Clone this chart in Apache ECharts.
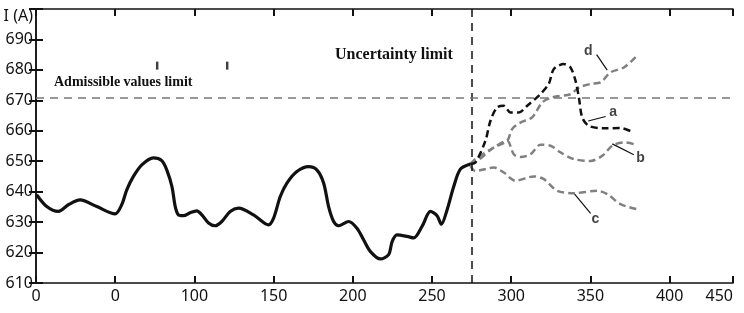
<!DOCTYPE html>
<html><head><meta charset="utf-8">
<script src="https://cdn.jsdelivr.net/npm/echarts@6/dist/echarts.min.js"></script>
<style>html,body{margin:0;padding:0;background:#fff}#c{width:744px;height:313px}</style>
</head><body><div id="c"></div>
<script>
// ---- data ----
const xTickValues = [0, 50, 100, 150, 200, 250, 300, 350, 400, 440];
const xTickLabels = ['0', '0', '100', '150', '200', '250', '300', '350', '400', '450'];
const yTickValues = [610, 620, 630, 640, 650, 660, 670, 680, 690, 700];
const yTickLabels = ['610', '620', '630', '640', '650', '660', '670', '680', '690', 'I (A)'];

const measured = [[0.4,639.0],[6.8,635.1],[14.1,633.5],[20.4,635.7],[27.8,637.3],[38.4,635.1],[49.9,632.7],[54.1,635.7],[57.3,640.6],[61.5,645],[66.8,648.8],[74.1,651.1],[79.4,650.2],[82.6,647.1],[85.8,641.7],[87.9,635.1],[89.9,632.4],[93.1,632.1],[97.3,633.1],[101.5,633.7],[104.7,632.4],[108.9,629.7],[113.1,628.8],[117.3,630.2],[122.6,633.5],[127.8,634.6],[137.3,632.4],[146.8,629.1],[150,631.3],[154.2,638.4],[158.4,642.8],[164.7,646.6],[172.1,648.2],[177.4,647.1],[181.6,642.8],[184.7,635.1],[187.9,630.2],[191,628.8],[197.4,630.2],[202.6,628],[206.8,624.2],[211,620.4],[217.4,617.9],[222.6,619.3],[224.8,623.6],[227.9,625.8],[234.3,625.3],[238.4,624.8],[243.7,628.6],[249,633.5],[253.2,632.1],[255.9,629.3],[259.5,634],[263.7,641.7],[267.9,647.4],[274.2,649.1]];

const forecastA = [[274.2,649.1],[277.4,649.6],[283.7,656.7],[286.9,663.3],[291.1,667.7],[295.3,668.2],[299.5,666],[304.8,666],[310.1,668.2],[318.5,672.1],[323.7,675.4],[326.9,680.3],[333.2,681.9],[337.4,680.8],[340.6,676.4],[342.7,671],[344.8,664.4],[349,661.6],[358.5,660.8],[369,660.9],[377.4,659.4]];
const forecastB = [[274.2,649.1],[277.4,649.6],[289,654.5],[297.4,656.7],[301.6,652.3],[305.8,651.4],[312.2,652.3],[318.5,655.4],[324.8,655.1],[331.1,652.9],[339.5,650.7],[350.1,650.1],[357.5,651.8],[363.8,655.1],[371.1,656.2],[377.4,655.6]];
const forecastC = [[274.2,648.5],[277.4,646.8],[289,647.9],[295.3,646.3],[302.7,643.6],[314.3,645],[320.6,644.1],[329,640.3],[339.5,639.5],[354.3,640.3],[360.6,639.2],[369,635.9],[379.6,634.2]];
const forecastD = [[274.2,649.1],[277.4,650.7],[289,654.5],[297.4,656.7],[300.6,660.6],[305.8,662.7],[313.2,664.4],[319.6,669.3],[325.9,671],[337.4,672],[342.7,674.2],[350.1,675.4],[356.4,675.9],[362.7,679.2],[371.1,680.8],[379.6,684.7]];

const uncertaintyLimitX = 275;
const admissibleLimitI = 671;

const curveNames = ['a', 'b', 'c', 'd'];
const curveLabelPos = [[364.4,666.0],[381.7,650.9],[353.2,631.0],[348.6,686.3]];
const curveLeaders = [
  [[359.6,664.7],[348.6,663.2]],
  [[377.4,652.1],[363.8,655.7]],
  [[350.1,632.9],[339.5,639.5]],
  [[353.9,685.0],[360.6,679.9]]
];
const strayMarks = [[76.5,681.4],[120.7,681.4]];

// ---- chart ----
const chart = echarts.init(document.getElementById('c'), null, {renderer: 'canvas'});
const font = '"Noto Sans", sans-serif';
const xLab = v => { const i = xTickValues.indexOf(v); return i >= 0 ? xTickLabels[i] : ''; };
const yLab = v => { const i = yTickValues.indexOf(v); return i >= 0 ? (v === 700 ? '{t|' + yTickLabels[i] + '}' : yTickLabels[i]) : ''; };
const axisLine = {show: true, lineStyle: {color: '#111', width: 1.5}};
const tick = {show: true, inside: true, length: 7, lineStyle: {color: '#111', width: 2}};
const dashed = (c) => ({color: c, width: 2.5, type: [7, 4]});

chart.setOption({
  animation: false,
  backgroundColor: '#fff',
  grid: {left: 36, right: 11, top: 9, bottom: 30},
  xAxis: [
    {type: 'value', min: 0, max: 440, interval: 50, position: 'bottom', splitLine: {show: false},
     axisLine, axisTick: tick,
     axisLabel: {formatter: xLab, fontFamily: font, fontSize: 16, color: '#111', margin: 5, alignMaxLabel: 'right'}},
    {type: 'value', min: 0, max: 440, interval: 50, position: 'top', splitLine: {show: false},
     axisLine, axisTick: tick, axisLabel: {show: false}}
  ],
  yAxis: [
    {type: 'value', min: 610, max: 700, interval: 10, position: 'left', splitLine: {show: false},
     axisLine, axisTick: tick,
     axisLabel: {formatter: yLab, fontFamily: font, fontSize: 16, color: '#111', margin: 3,
                 rich: {t: {fontFamily: font, fontSize: 16, color: '#111', padding: [14, 0, 0, 0]}}}},
    {type: 'value', min: 610, max: 700, interval: 10, position: 'right', splitLine: {show: false},
     axisLine, axisTick: tick, axisLabel: {show: false}}
  ],
  series: [
    {type: 'line', data: measured, smooth: 0.3, symbol: 'none', lineStyle: {color: '#111', width: 3.2}, z: 5,
     markLine: {silent: true, symbol: 'none', label: {show: false},
       data: [
         {xAxis: uncertaintyLimitX, lineStyle: {color: '#111', width: 1.5, type: [8, 6]}},
         {yAxis: admissibleLimitI, lineStyle: {color: '#777', width: 1.5, type: [8, 6]}}
       ]}},
    {type: 'line', data: forecastD, smooth: 0.3, symbol: 'none', lineStyle: dashed('#808080')},
    {type: 'line', data: forecastB, smooth: 0.3, symbol: 'none', lineStyle: dashed('#808080')},
    {type: 'line', data: forecastC, smooth: 0.3, symbol: 'none', lineStyle: dashed('#808080')},
    {type: 'line', data: forecastA, smooth: 0.3, symbol: 'none', lineStyle: dashed('#111'), z: 4},
    {type: 'lines', coordinateSystem: 'cartesian2d', data: curveLeaders.map(c => ({coords: c})),
     lineStyle: {color: '#111', width: 1.2, opacity: 1}, silent: true},
    {type: 'scatter', symbolSize: 1, itemStyle: {color: 'rgba(0,0,0,0)'},
     data: curveLabelPos.map((p, i) => ({value: p, name: curveNames[i]})),
     label: {show: true, position: 'inside', formatter: '{b}', fontFamily: '"Liberation Sans", Arial, sans-serif',
             fontWeight: 'bold', fontSize: 14, color: '#111'}},
    {type: 'scatter', symbol: 'rect', symbolSize: [2.5, 8], itemStyle: {color: '#111'}, data: strayMarks}
  ],
  graphic: [
    {type: 'text', x: 54, y: 82, style: {text: 'Admissible values limit', font: 'bold 14px "Liberation Serif", serif', fill: '#111', verticalAlign: 'middle'}},
    {type: 'text', x: 335, y: 55, style: {text: 'Uncertainty limit', font: 'bold 16px "Liberation Serif", serif', fill: '#111', verticalAlign: 'middle'}}
  ]
});
</script></body></html>
